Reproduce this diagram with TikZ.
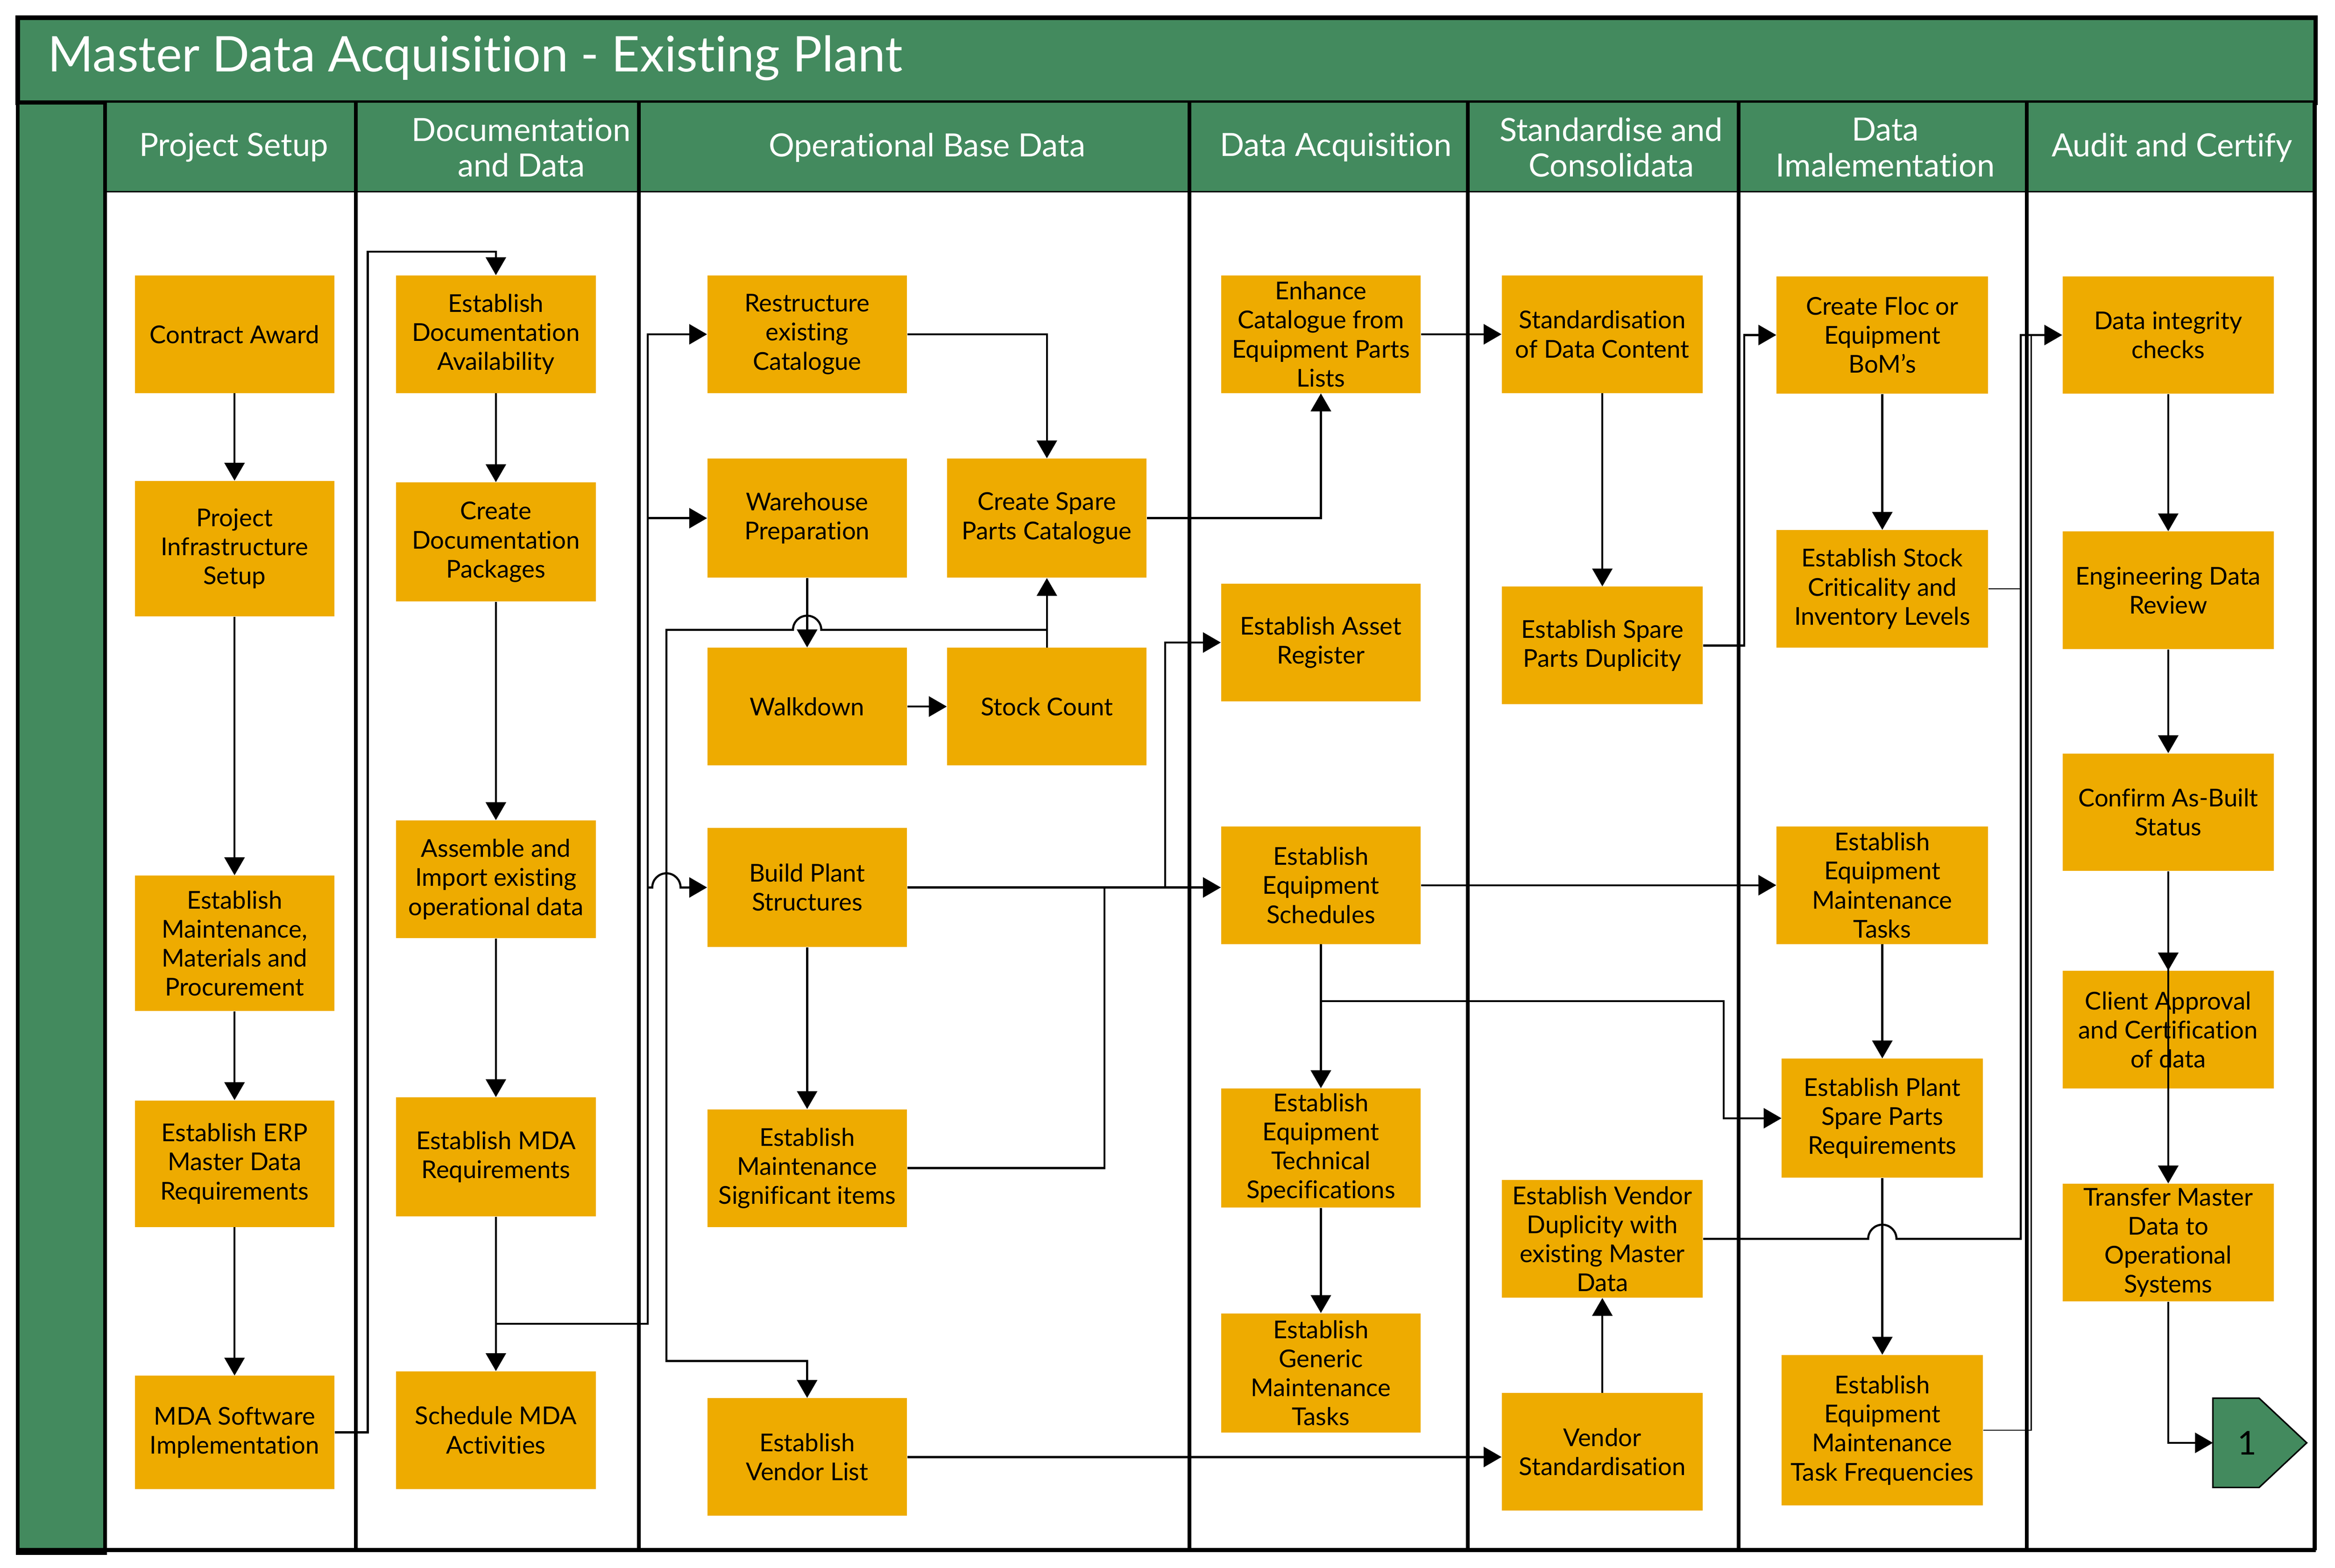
\documentclass[tikz,border=0pt]{standalone}
\usepackage{fontspec}
\setmainfont{Lato}[Ligatures=NoCommon]
\usetikzlibrary{arrows.meta}
\usetikzlibrary{positioning}
\definecolor{lanegreen}{HTML}{438A5E}
\definecolor{taskorange}{HTML}{EEAB00}

\begin{document}
\begin{tikzpicture}[x=1pt,y=-1pt,
  task/.style={rectangle,fill=taskorange,minimum width=134pt,minimum height=79pt,inner sep=1pt,align=center,font=\fontsize{16.5}{19.5}\selectfont},
  hdr/.style={text=white,align=center,inner sep=0pt,font=\fontsize{21.5}{24}\selectfont},
  flow/.style={line width=1.4pt,-{Triangle[length=12pt,width=13.5pt]}},
  link/.style={line width=1.4pt},
  fine/.style={line width=0.8pt},
  lane/.style={line width=2.6pt}]

\useasboundingbox (0,0) rectangle (1568,1053);

% title bar and swim lanes
\draw[line width=3pt,fill=lanegreen] (12,12) rectangle (1555,69);
\node[anchor=west,inner sep=0pt,text=white,font=\fontsize{33}{38}\selectfont] (title) at (32,39) {Master Data Acquisition - Existing Plant};
\fill[lanegreen] (70.5,69) rectangle (1555,128.7);
\draw[lane,fill=lanegreen] (12,69) rectangle (70.5,1043);
\draw[fine] (70.5,128.7) -- (1555,128.7);
\draw[lane] (12,1041) -- (1555,1041);
\foreach \lx in {239,429,798.7,985.6,1167.6,1361,1554.3}
  \draw[lane] (\lx,69) -- (\lx,1041);

\node[hdr] (hsetup) at (157,99) {Project Setup};
\node[hdr] (hdocs) at (350,99) {Documentation\\and Data};
\node[hdr] (hbase) at (622.5,99) {Operational Base Data};
\node[hdr] (hacq) at (897,99) {Data Acquisition};
\node[hdr] (hstd) at (1082,99) {Standardise and\\Consolidata};
\node[hdr] (himpl) at (1266,99) {Data\\Imalementation};
\node[hdr] (haudit) at (1458.5,99) {Audit and Certify};

% project setup
\node[task] (award) at (157.5,224.5) {Contract Award};
\node[task,minimum height=91pt] (infra) at (157.5,368.5) {Project\\Infrastructure\\Setup};
\node[task,minimum height=91pt] (maint) at (157.5,633.5) {Establish\\Maintenance,\\Materials and\\Procurement};
\node[task,minimum height=85pt] (erp) at (157.5,781.5) {Establish ERP\\Master Data\\Requirements};
\node[task,minimum height=76pt] (mdasw) at (157.5,962) {MDA Software\\Implementation};

% documentation and data
\node[task] (docavail) at (333,224.5) {Establish\\Documentation\\Availability};
\node[task,minimum height=80pt] (docpack) at (333,364) {Create\\Documentation\\Packages};
\node[task] (assemble) at (333,590.5) {Assemble and\\Import existing\\operational data};
\node[task,minimum height=80pt] (mdareq) at (333,777) {Establish MDA\\Requirements};
\node[task] (schedmda) at (333,960.5) {Schedule MDA\\Activities};

% operational base data
\node[task] (restruct) at (542,224.5) {Restructure\\existing\\Catalogue};
\node[task,minimum height=80pt] (warehouse) at (542,348) {Warehouse\\Preparation};
\node[task,minimum height=80pt] (sparecat) at (703,348) {Create Spare\\Parts Catalogue};
\node[task] (walk) at (542,474.5) {Walkdown};
\node[task] (stock) at (703,474.5) {Stock Count};
\node[task,minimum height=80pt] (build) at (542,596) {Build Plant\\Structures};
\node[task] (msi) at (542,784.5) {Establish\\Maintenance\\Significant items};
\node[task] (vendorlist) at (542,978.5) {Establish\\Vendor List};

% data acquisition
\node[task] (enhance) at (887,224.5) {Enhance\\Catalogue from\\Equipment Parts\\Lists};
\node[task] (asset) at (887,431.5) {Establish Asset\\Register};
\node[task] (eqsched) at (887,594.5) {Establish\\Equipment\\Schedules};
\node[task,minimum height=80pt] (techspec) at (887,771) {Establish\\Equipment\\Technical\\Specifications};
\node[task,minimum height=80pt] (generic) at (887,922) {Establish\\Generic\\Maintenance\\Tasks};

% standardise and consolidata
\node[task,minimum width=135pt] (stdcontent) at (1076,224.5) {Standardisation\\of Data Content};
\node[task,minimum width=135pt] (spdup) at (1076,433.5) {Establish Spare\\Parts Duplicity};
\node[task,minimum width=135pt] (vendup) at (1076,832) {Establish Vendor\\Duplicity with\\existing Master\\Data};
\node[task,minimum width=135pt] (vendstd) at (1076,975) {Vendor\\Standardisation};

% data implementation
\node[task,minimum width=142pt] (floc) at (1264,225) {Create Floc or\\Equipment\\BoM’s};
\node[task,minimum width=142pt] (criticality) at (1264,395.5) {Establish Stock\\Criticality and\\Inventory Levels};
\node[task,minimum width=142pt] (eqtasks) at (1264,594.5) {Establish\\Equipment\\Maintenance\\Tasks};
\node[task,minimum width=135pt,minimum height=80pt] (plantspare) at (1264,751) {Establish Plant\\Spare Parts\\Requirements};
\node[task,minimum width=135pt,minimum height=101pt] (taskfreq) at (1264,960.5) {Establish\\Equipment\\Maintenance\\Task Frequencies};

% audit and certify
\node[task,minimum width=142pt] (integrity) at (1456,225) {Data integrity\\checks};
\node[task,minimum width=142pt] (engreview) at (1456,396.5) {Engineering Data\\Review};
\node[task,minimum width=142pt] (asbuilt) at (1456,545.5) {Confirm As-Built\\Status};
\node[task,minimum width=142pt] (client) at (1456,691.5) {Client Approval\\and Certification\\of data};
\node[task,minimum width=142pt] (transfer) at (1456,834.5) {Transfer Master\\Data to\\Operational\\Systems};

% off page connector
\draw[line width=1pt,fill=lanegreen] (1486,939) -- (1517,939) -- (1549,969) -- (1517,999) -- (1486,999) -- cycle;
\node[font=\fontsize{22}{24}\selectfont] (offpage) at (1509,969) {1};
\coordinate (offin) at (1486,969);

% project setup flow
\draw[flow] (award) -- (infra);
\draw[flow] (infra) -- (maint);
\draw[flow] (maint) -- (erp);
\draw[flow] (erp) -- (mdasw);
\draw[flow] (mdasw.east) -| (247,169) -| (docavail.north);

% documentation flow
\draw[flow] (docavail) -- (docpack);
\draw[flow] (docpack) -- (assemble);
\draw[flow] (assemble) -- (mdareq);
\draw[flow] (mdareq) -- (schedmda);
\coordinate (mdajoin) at (333,889);
\coordinate (trunk) at (435,889);
\draw[flow] (mdajoin) -- (trunk) |- (restruct.west);
\draw[flow] (trunk |- warehouse.west) -- (warehouse.west);
\draw[flow] (trunk |- build.west) -- ++(3,0) arc[start angle=180,end angle=0,radius=9.5pt] -- (build.west);

% operational base data flow
\draw[flow] (warehouse) -- (walk);
\draw[flow] (walk) -- (stock);
\draw[flow] (stock) -- (sparecat);
\draw[flow] (restruct.east) -| (sparecat.north);
\coordinate (countjoin) at (703,423);
\draw[flow] (countjoin) -- (551.5,423) arc[start angle=0,end angle=180,radius=9.5pt] -- (447.5,423) |- (542,914) -- (vendorlist.north);
\draw[flow] (sparecat.east) -| (enhance.south);
\draw[flow] (build) -- (msi);
\draw[flow] (build.east) -- (build.east -| eqsched.west);
\coordinate (assetjoin) at (782.5,596);
\draw[flow] (assetjoin) |- (asset.west);
\draw[link] (msi.east) -| (741.7,596);
\draw[flow] (vendorlist.east) -- (vendorlist.east -| vendstd.west);

% data acquisition flow
\draw[flow] (enhance) -- (stdcontent);
\draw[flow] (eqsched) -- (eqtasks);
\draw[flow] (eqsched) -- (techspec);
\draw[flow] (techspec) -- (generic);
\coordinate (schedjoin) at (887,672.4);
\draw[flow] (schedjoin) -- (1157.4,672.4) |- (plantspare.west);

% standardise flow
\draw[flow] (stdcontent) -- (spdup);
\draw[flow] (spdup.east) -- ++(27.5,0) |- (floc.west);
\draw[flow] (vendstd) -- (vendup);

% implementation flow
\draw[flow] (floc) -- (criticality);
\draw[flow] (eqtasks) -- (plantspare);
\draw[flow] (plantspare) -- (taskfreq);
\draw[fine] (criticality.east) -- (1357,395.5);
\draw[fine] (taskfreq.east) -- (1364,960.5) -- (1364,225);
\draw[flow] (vendup.east) -- (1254.5,832) arc[start angle=180,end angle=0,radius=9.5pt] -- (1357,832) |- (integrity.west);

% audit flow
\draw[flow] (integrity) -- (engreview);
\draw[flow] (engreview) -- (asbuilt);
\draw[flow] (asbuilt) -- (client);
\draw[flow] (asbuilt.south) -- (transfer.north);
\draw[flow] (transfer.south) |- (offin);
\end{tikzpicture}
\end{document}
